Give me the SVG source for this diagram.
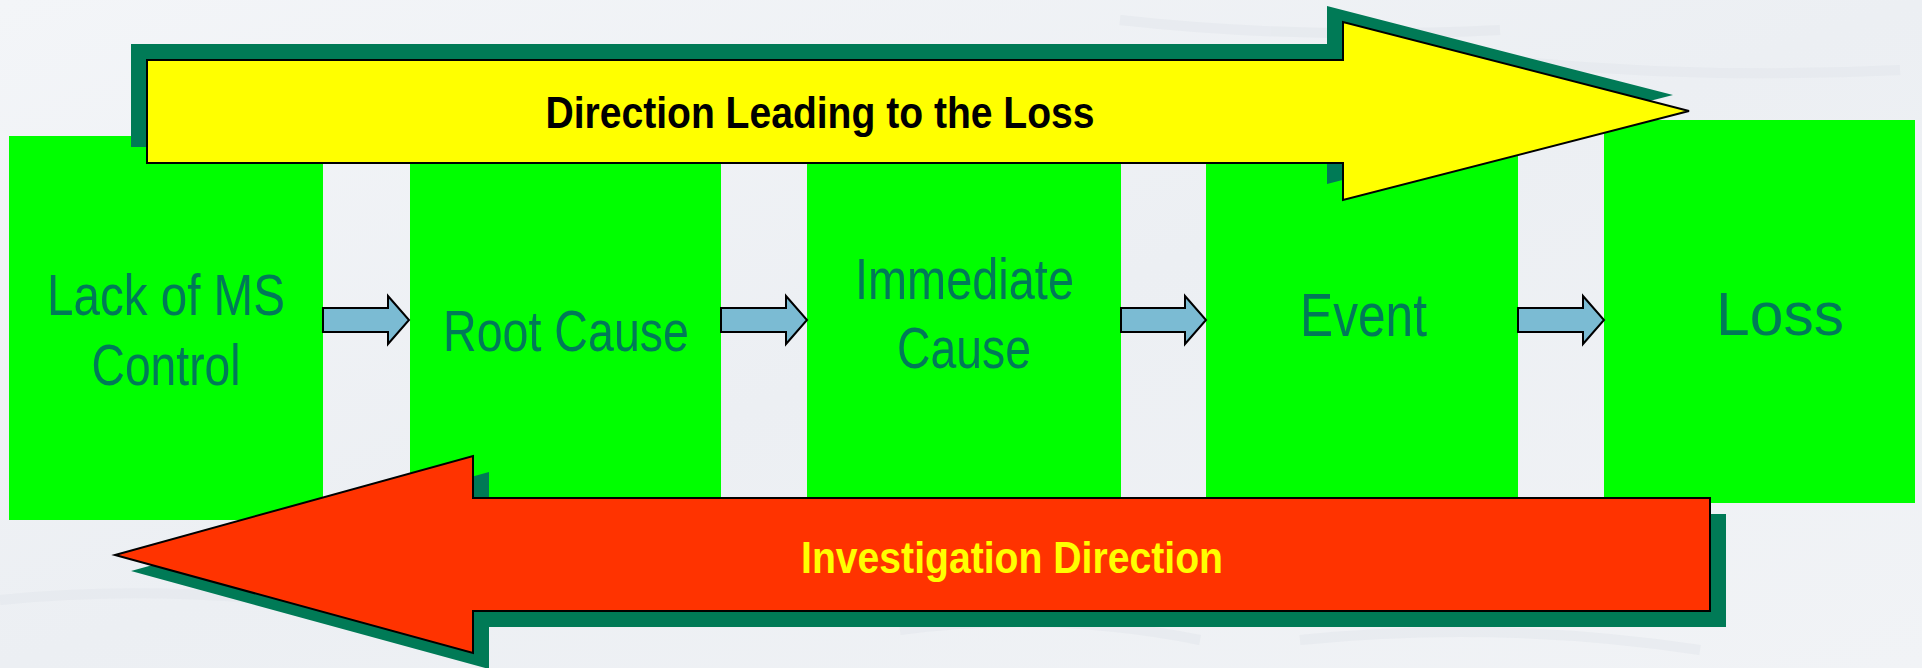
<svg xmlns="http://www.w3.org/2000/svg" width="1922" height="668" viewBox="0 0 1922 668">
  <defs>
    <style>
      .box { fill: #00ff00; }
      .lbl { font-family: "Liberation Sans", Arial, sans-serif; fill: #007a58; text-anchor: middle; }
      .shadow { fill: #007a56; }
      .big { stroke: #000000; stroke-width: 2; stroke-linejoin: miter; }
      .conn { fill: #7bbbd3; stroke: #000000; stroke-width: 2; stroke-linejoin: miter; }
      .title { font-family: "Liberation Sans", Arial, sans-serif; font-weight: bold; font-size: 45px; text-anchor: middle; }
    </style>
    <linearGradient id="bg" x1="0" y1="0" x2="1" y2="1">
      <stop offset="0" stop-color="#f3f5f8"/>
      <stop offset="0.5" stop-color="#eceff3"/>
      <stop offset="1" stop-color="#f1f3f6"/>
    </linearGradient>
  </defs>

  <rect x="0" y="0" width="1922" height="668" fill="url(#bg)"/>
  <g fill="none" stroke="#e2e6eb" stroke-width="10" opacity="0.5">
    <path d="M1120 20 Q1300 40 1500 30"/>
    <path d="M1500 60 Q1700 80 1900 70"/>
    <path d="M0 600 Q200 580 420 620"/>
    <path d="M1300 640 Q1500 620 1700 650"/>
    <path d="M900 630 Q1050 610 1200 640"/>
  </g>

  <g id="node-lack-of-ms-control">
    <rect class="box" x="9" y="136" width="314" height="384"/>
    <text class="lbl" font-size="58" x="166" y="315" textLength="238" lengthAdjust="spacingAndGlyphs">Lack of MS</text>
    <text class="lbl" font-size="58" x="166" y="385" textLength="149" lengthAdjust="spacingAndGlyphs">Control</text>
  </g>

  <g id="node-root-cause">
    <rect class="box" x="410" y="138" width="311" height="384"/>
    <text class="lbl" font-size="58" x="566" y="351" textLength="246" lengthAdjust="spacingAndGlyphs">Root Cause</text>
  </g>

  <g id="node-immediate-cause">
    <rect class="box" x="807" y="120" width="314" height="384"/>
    <text class="lbl" font-size="58" x="964.5" y="299" textLength="219" lengthAdjust="spacingAndGlyphs">Immediate</text>
    <text class="lbl" font-size="58" x="964" y="368" textLength="134" lengthAdjust="spacingAndGlyphs">Cause</text>
  </g>

  <g id="node-event">
    <rect class="box" x="1206" y="120" width="312" height="384"/>
    <text class="lbl" font-size="62" x="1363.5" y="336" textLength="127" lengthAdjust="spacingAndGlyphs">Event</text>
  </g>

  <g id="node-loss">
    <rect class="box" x="1604" y="120" width="311" height="383"/>
    <text class="lbl" font-size="62" x="1780" y="335" textLength="128" lengthAdjust="spacingAndGlyphs">Loss</text>
  </g>

  <g id="connectors">
    <polygon class="conn" points="323,308 388,308 388,296 409,320 388,344 388,332 323,332"/>
    <polygon class="conn" points="721,308 786,308 786,296 807,320 786,344 786,332 721,332"/>
    <polygon class="conn" points="1121,308 1185,308 1185,296 1206,320 1185,344 1185,332 1121,332"/>
    <polygon class="conn" points="1518,308 1583,308 1583,296 1604,320 1583,344 1583,332 1518,332"/>
  </g>

  <g id="arrow-direction-leading">
    <polygon class="shadow" points="131,44 1327,44 1327,6 1673,95 1327,184 1327,147 131,147"/>
    <polygon class="big" fill="#ffff00" points="147,60 1343,60 1343,22 1689,111 1343,200 1343,163 147,163"/>
    <text class="title" fill="#000000" x="820" y="128" textLength="549" lengthAdjust="spacingAndGlyphs">Direction Leading to the Loss</text>
  </g>

  <g id="arrow-investigation">
    <polygon class="shadow" points="1726,514 489,514 489,472 131,571 489,669 489,627 1726,627"/>
    <polygon class="big" fill="#ff3300" points="1710,498 473,498 473,456 115,555 473,653 473,611 1710,611"/>
    <text class="title" fill="#ffff00" x="1012" y="573" textLength="422" lengthAdjust="spacingAndGlyphs">Investigation Direction</text>
  </g>
</svg>
